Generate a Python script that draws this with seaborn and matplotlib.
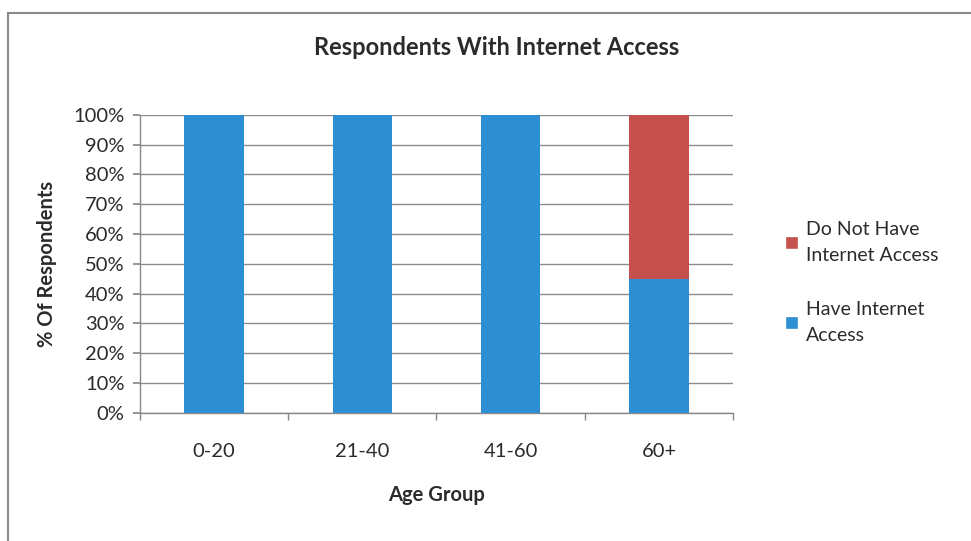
import numpy as np
import pandas as pd
import matplotlib.pyplot as plt
import seaborn as sns
from matplotlib.patches import Patch, Rectangle

## Data
age_groups = ['0-20', '21-40', '41-60', '60+']
have_access = [100, 100, 100, 45]
no_access = [0, 0, 0, 55]

df = pd.DataFrame({'age': age_groups, 'have': have_access, 'not': no_access})
df['total'] = df['have'] + df['not']

## Colors
blue = '#2d8fd1'
red = '#c5504e'
text_color = '#2b2b2b'

## Theme
sns.set_theme(style='white')
plt.rcParams['font.family'] = ['Lato', 'DejaVu Sans']

fig = plt.figure(figsize=(9.71, 5.41), dpi=100)
ax = fig.add_axes([0.144, 0.237, 0.611, 0.551])

# Outer frame round the whole chart
fig.patches.append(Rectangle((0.008, -0.05), 1.1, 1.026, transform=fig.transFigure,
                             fill=False, edgecolor='#8a8a8a', linewidth=1.5))

# Stacked bars: total in red, then the "have" part in blue on top of it
sns.barplot(data=df, x='age', y='total', color=red, width=0.4, ax=ax, saturation=1,
            linewidth=0, zorder=3)
sns.barplot(data=df, x='age', y='have', color=blue, width=0.4, ax=ax, saturation=1,
            linewidth=0, zorder=4)

# Axes
ax.set_ylim(0, 100)
ax.set_xlim(-0.5, 3.5)
ax.set_yticks(np.arange(0, 101, 10))
ax.set_yticklabels([f'{v}%' for v in range(0, 101, 10)], fontsize=14.5, color=text_color)
ax.set_xticks(range(4))
ax.set_xticklabels(age_groups, fontsize=14.5, color=text_color)
ax.set_xticks(np.arange(-0.5, 4, 1), minor=True)
ax.tick_params(axis='x', which='major', length=0, pad=22)
ax.tick_params(axis='x', which='minor', length=5, color='#888888', direction='out', bottom=True)
ax.tick_params(axis='y', length=5, color='#888888', direction='out', left=True, pad=6)

ax.grid(axis='y', color='#8c8c8c', linewidth=1, zorder=0)
ax.set_axisbelow(True)
for s in ['top', 'right']:
    ax.spines[s].set_visible(False)
for s in ['left', 'bottom']:
    ax.spines[s].set_color('#888888')
    ax.spines[s].set_linewidth(1)

ax.set_xlabel('Age Group', fontsize=14.5, fontweight='bold', color=text_color, labelpad=18)
ax.set_ylabel('% Of Respondents', fontsize=14.5, fontweight='bold', color=text_color, labelpad=12)
fig.text(0.511, 0.913, 'Respondents With Internet Access', ha='center', va='center',
         fontsize=17, fontweight='bold', color=text_color)

# Legend
handles = [Patch(facecolor=red, label='Do Not Have\nInternet Access'),
           Patch(facecolor=blue, label='Have Internet\nAccess')]
leg = fig.legend(handles=handles, loc='center left', bbox_to_anchor=(0.79, 0.478), frameon=False,
                 fontsize=14, handlelength=0.7, handleheight=0.7, handletextpad=0.4,
                 labelspacing=1.9, labelcolor=text_color)
for t in leg.get_texts():
    t.set_linespacing(1.65)

plt.savefig('out.png', dpi=100)
